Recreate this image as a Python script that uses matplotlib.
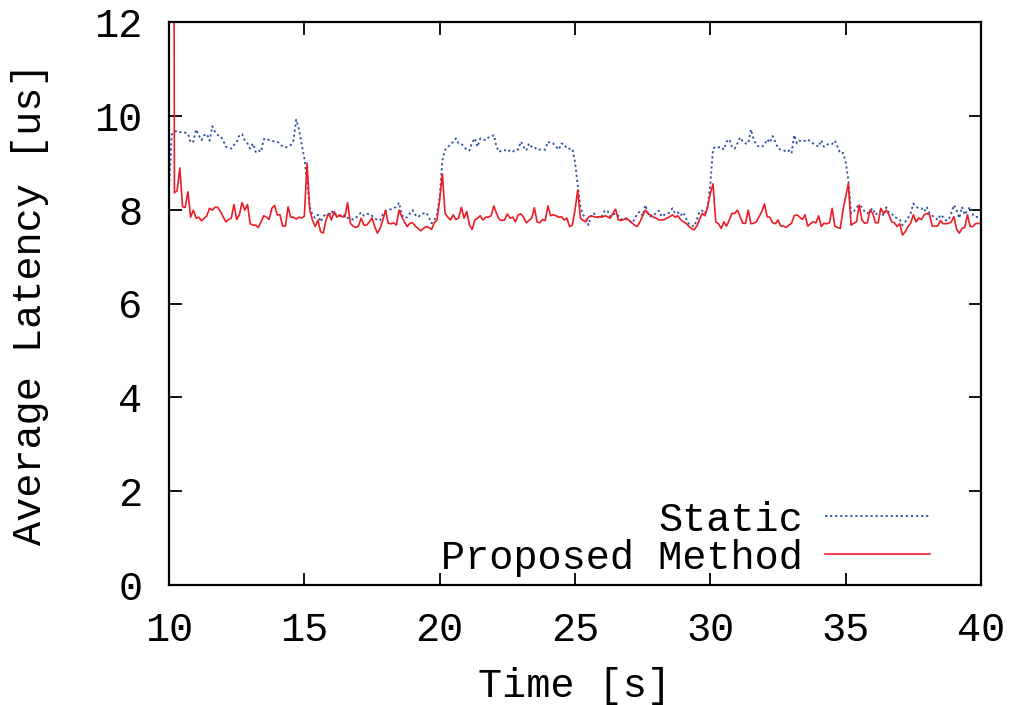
import numpy as np
import matplotlib.pyplot as plt

# Average latency sampled every 0.1 s from 10.0 s to 40.0 s (301 samples)
time_s = np.round(np.arange(10.0, 40.05, 0.1), 1)

# Proposed method, split per 5 s phase
proposed_a = [40.0, 40.0,
              8.36, 8.40, 8.89, 8.06, 8.05, 8.38, 7.84, 7.99, 7.82, 7.84,
              7.76, 7.82, 7.87, 8.03, 7.99, 8.05, 8.05, 7.96, 7.85, 7.74,
              7.79, 7.82, 8.11, 7.79, 7.89, 8.15, 7.99, 8.11, 7.70, 7.67,
              7.67, 7.62, 7.74, 7.87, 7.84, 7.79, 8.03, 8.09, 7.89, 7.89,
              7.65, 7.65, 8.06, 7.84, 7.84, 7.80, 7.84, 7.82, 7.86]
proposed_b = [8.99,
              7.99, 7.78, 7.64, 7.78, 7.53, 7.50, 7.78, 7.92, 7.78, 7.96,
              7.84, 7.89, 7.85, 7.85, 8.15, 7.71, 7.65, 7.62, 7.65, 7.82,
              7.67, 7.67, 7.74, 7.82, 7.64, 7.50, 7.60, 7.78, 7.99, 7.71,
              7.70, 7.72, 7.67, 7.99, 7.85, 7.74, 7.64, 7.71, 7.72, 7.65,
              7.60, 7.55, 7.60, 7.64, 7.62, 7.58, 7.72, 7.78, 8.21]
proposed_c = [8.76,
              7.92, 7.84, 7.78, 7.89, 7.79, 7.82, 8.05, 7.82, 7.96, 7.67,
              7.58, 7.78, 7.82, 7.87, 7.78, 7.84, 7.84, 7.87, 8.08, 7.92,
              7.79, 7.77, 7.78, 7.91, 7.82, 7.84, 7.74, 7.89, 7.91, 7.84,
              7.72, 7.77, 7.82, 8.04, 7.74, 7.72, 7.79, 7.77, 8.08, 7.87,
              7.89, 7.87, 7.84, 7.85, 7.78, 7.82, 7.64, 7.67, 7.99]
proposed_d = [8.42,
              7.82, 7.77, 7.74, 7.84, 7.87, 7.85, 7.84, 7.85, 7.84, 7.87,
              7.85, 7.82, 7.92, 8.01, 7.78, 7.77, 7.79, 7.82, 7.77, 7.72,
              7.67, 7.64, 7.74, 7.87, 7.99, 7.91, 7.89, 7.84, 7.82, 7.78,
              7.78, 7.79, 7.82, 7.85, 7.89, 7.84, 7.87, 7.79, 7.74, 7.71,
              7.65, 7.60, 7.57, 7.65, 7.79, 7.92, 7.87, 8.06, 8.35]
proposed_e = [8.55,
              7.74, 7.70, 7.60, 7.74, 7.65, 7.78, 7.92, 7.92, 7.99, 7.85,
              7.71, 7.71, 7.99, 7.70, 7.71, 7.74, 7.85, 7.96, 8.12, 7.85,
              7.84, 7.72, 7.70, 7.78, 7.65, 7.65, 7.62, 7.67, 7.71, 7.87,
              7.89, 7.84, 7.79, 7.89, 7.65, 7.70, 7.74, 7.72, 7.87, 7.64,
              7.71, 7.70, 7.72, 8.03, 7.65, 7.62, 7.60, 7.99, 8.28]
proposed_f = [8.56,
              7.67, 7.71, 7.74, 8.10, 7.78, 7.71, 7.72, 7.99, 7.92, 7.72,
              7.72, 8.03, 7.92, 7.99, 7.89, 7.74, 7.72, 7.64, 7.70, 7.46,
              7.53, 7.64, 7.71, 7.89, 7.74, 7.82, 7.79, 7.89, 7.92, 7.89,
              7.65, 7.65, 7.65, 7.77, 7.70, 7.70, 7.71, 7.74, 7.85, 7.58,
              7.50, 7.60, 7.62, 7.89, 7.64, 7.64, 7.70, 7.71, 7.70]

# Static configuration
static_a = [8.40, 9.60,
            9.66, 9.68, 9.65, 9.66, 9.64, 9.62, 9.43, 9.45, 9.71, 9.59,
            9.48, 9.59, 9.61, 9.47, 9.78, 9.66, 9.59, 9.57, 9.48, 9.34,
            9.32, 9.30, 9.38, 9.43, 9.59, 9.61, 9.47, 9.41, 9.30, 9.41,
            9.23, 9.27, 9.23, 9.50, 9.52, 9.48, 9.47, 9.45, 9.45, 9.41,
            9.34, 9.33, 9.34, 9.38, 9.48,
            9.92, 9.72, 9.40, 9.10]
static_b = [8.60, 8.05,
            7.89, 7.82, 7.89, 7.74, 7.85, 7.92, 7.85, 7.98, 7.89, 7.91,
            7.87, 7.85, 7.89, 7.82, 7.82, 7.79, 7.82, 7.89, 7.94, 7.87,
            7.91, 7.91, 7.87, 7.82, 7.78, 7.77, 7.89, 7.96, 7.99, 8.01,
            8.03, 8.06, 8.15, 7.89, 7.82, 7.84, 7.92, 7.99, 7.89, 7.84,
            7.89, 7.92, 7.94, 7.84, 7.71, 7.78, 7.89,
            8.28]
static_c = [9.05,
            9.28, 9.34, 9.38, 9.45, 9.52, 9.41, 9.40, 9.35, 9.27, 9.26,
            9.43, 9.52, 9.34, 9.52, 9.50, 9.48, 9.54, 9.55, 9.59, 9.34,
            9.23, 9.27, 9.27, 9.23, 9.26, 9.23, 9.28, 9.28, 9.45, 9.34,
            9.26, 9.41, 9.34, 9.34, 9.27, 9.28, 9.28, 9.28, 9.45, 9.41,
            9.41, 9.34, 9.28, 9.41, 9.40, 9.30, 9.30, 9.30,
            9.02]
static_d = [8.52, 8.06,
            7.89, 7.82, 7.67, 7.89, 7.92, 7.85, 7.82, 7.87, 7.98, 7.98,
            7.85, 7.89, 7.92, 7.87, 7.79, 7.82, 7.79, 7.77, 7.72, 7.79,
            7.92, 7.96, 7.87, 8.10, 7.92, 7.85, 7.89, 7.92, 7.98, 7.85,
            7.89, 7.92, 7.94, 8.03, 7.92, 7.94, 7.87, 7.94, 7.82, 7.70,
            7.67, 7.64, 7.78, 7.96, 7.98, 7.92, 8.06,
            8.55]
static_e = [9.30,
            9.34, 9.33, 9.34, 9.28, 9.45, 9.50, 9.34, 9.30, 9.41, 9.54,
            9.45, 9.41, 9.41, 9.71, 9.50, 9.38, 9.34, 9.34, 9.38, 9.50,
            9.43, 9.57, 9.45, 9.30, 9.28, 9.27, 9.23, 9.26, 9.20, 9.59,
            9.41, 9.47, 9.45, 9.47, 9.50, 9.45, 9.41, 9.38, 9.34, 9.48,
            9.34, 9.38, 9.41, 9.40, 9.47, 9.34, 9.20, 9.21,
            9.02]
static_f = [8.63, 7.92,
            7.96, 8.05, 8.10, 8.05, 7.96, 7.92, 7.98, 8.03, 7.89, 7.94,
            7.98, 7.87, 8.05, 7.94, 7.92, 7.84, 7.82, 7.79, 7.67, 7.74,
            7.82, 7.92, 8.13, 8.06, 8.03, 8.03, 7.96, 8.06, 7.92, 7.87,
            7.84, 7.78, 7.89, 7.84, 7.77, 7.78, 7.92, 8.10, 7.99, 7.82,
            8.06, 7.89, 7.99, 8.06, 7.89, 7.84, 7.85, 7.89]

proposed = np.array(proposed_a + proposed_b + proposed_c + proposed_d + proposed_e + proposed_f)
static = np.array(static_a + static_b + static_c + static_d + static_e + static_f)

plt.rcParams['font.family'] = ['Liberation Mono', 'DejaVu Sans Mono']
plt.rcParams['font.size'] = 29

fig = plt.figure(figsize=(10.17, 7.05), dpi=100)
ax = fig.add_axes([169 / 1017, 1 - 585 / 705, (981 - 169) / 1017, (585 - 22) / 705])

ax.plot(time_s, static, color='#2c4ea6', lw=1.3, ls=(0, (1.2, 1.6)), label='Static')
ax.plot(time_s, proposed, color='#ee1c25', lw=1.2, label='Proposed Method')

ax.set_xlim(10, 40)
ax.set_ylim(0, 12)
ax.set_xticks(range(10, 41, 5))
ax.set_yticks(range(0, 13, 2))
ax.tick_params(direction='in', length=9, width=1.3, top=True, right=True, pad=19)
for s in ax.spines.values():
    s.set_linewidth(1.6)

ax.set_xlabel('Time [s]', labelpad=13)
ax.set_ylabel('Average Latency [us]', labelpad=33)

ax.legend(loc='lower right', bbox_to_anchor=(0.937, 0.015), frameon=False,
          markerfirst=False, handlelength=2.6, handletextpad=0.55,
          labelspacing=0.0, borderpad=0, borderaxespad=0)

fig.savefig('out.png', dpi=100)
